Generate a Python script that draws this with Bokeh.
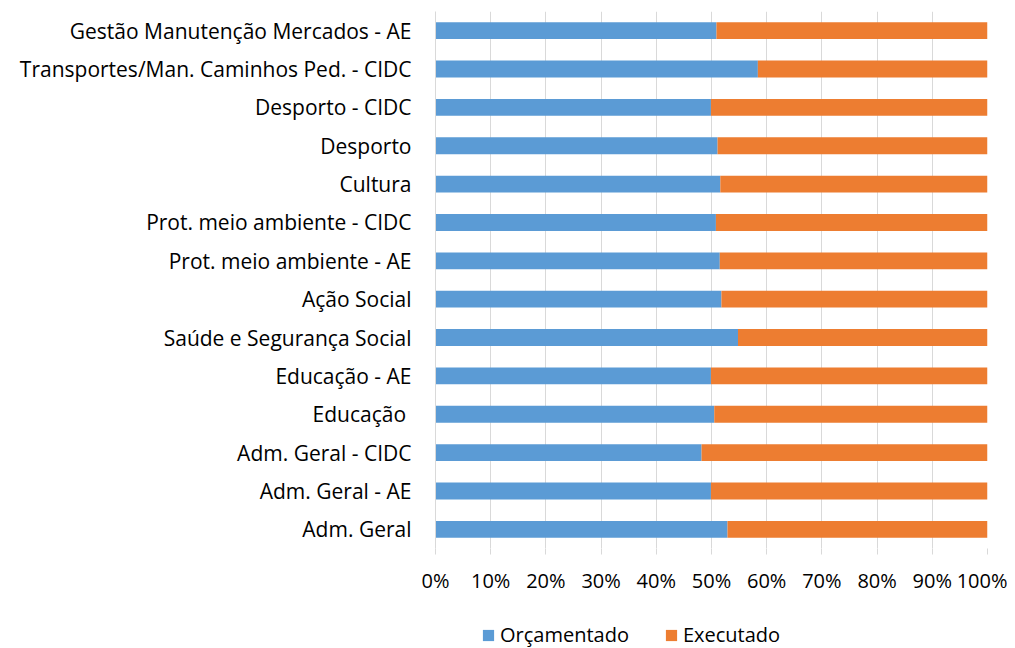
from bokeh.plotting import figure
from bokeh.layouts import column
from bokeh.models import ColumnDataSource, FactorRange, Range1d, Legend, LegendItem, PrintfTickFormatter, FixedTicker
from bokeh.embed import file_html
from bokeh.resources import INLINE

categories = [
    "Gestão Manutenção Mercados - AE",
    "Transportes/Man. Caminhos Ped. - CIDC",
    "Desporto - CIDC",
    "Desporto",
    "Cultura",
    "Prot. meio ambiente - CIDC",
    "Prot. meio ambiente - AE",
    "Ação Social",
    "Saúde e Segurança Social",
    "Educação - AE",
    "Educação ",
    "Adm. Geral - CIDC",
    "Adm. Geral - AE",
    "Adm. Geral",
]
orcamentado = [50.9, 58.4, 49.9, 51.1, 51.6, 50.8, 51.5, 51.8, 54.8, 49.9, 50.5, 48.2, 49.9, 52.9]
executado = [round(100 - v, 1) for v in orcamentado]
x_ticks = [0, 10, 20, 30, 40, 50, 60, 70, 80, 90, 100]
series_names = ["Orçamentado", "Executado"]

BLUE = "#5b9bd5"
ORANGE = "#ed7d31"
FONT = "Open Sans"

src = ColumnDataSource(dict(cat=categories, orc=orcamentado, exe=executado))

p = figure(
    width=1007, height=600,
    y_range=FactorRange(factors=list(reversed(categories)), range_padding=0),
    x_range=Range1d(0, 100),
    output_backend="svg", toolbar_location=None,
    min_border_left=435, min_border_right=20, min_border_top=11, min_border_bottom=52,
)
p.outline_line_color = None
p.background_fill_color = "white"
p.border_fill_color = "white"

r = p.hbar_stack(["orc", "exe"], y="cat", height=0.44, color=[BLUE, ORANGE], source=src, line_color=None)

p.ygrid.grid_line_color = None
p.xgrid.grid_line_color = "#d9d9d9"
p.xgrid.ticker = FixedTicker(ticks=x_ticks)

xa = p.xaxis[0]
xa.ticker = FixedTicker(ticks=x_ticks)
xa.formatter = PrintfTickFormatter(format="%d%%")
xa.axis_line_color = None
xa.major_tick_line_color = "#d9d9d9"
xa.major_tick_out = 6
xa.major_tick_in = 0
xa.minor_tick_line_color = None
xa.major_label_text_font = FONT
xa.major_label_text_font_size = "20px"
xa.major_label_text_color = "#000000"
xa.major_label_standoff = 12

ya = p.yaxis[0]
ya.axis_line_color = "#d9d9d9"
ya.major_tick_line_color = None
ya.minor_tick_line_color = None
ya.major_label_text_font = FONT
ya.major_label_text_font_size = "21px"
ya.major_label_text_color = "#000000"
ya.major_label_standoff = 18

# legend strip below the chart (its frame is aligned with the chart frame by the column layout)
p2 = figure(
    width=1007, height=48,
    x_range=Range1d(0, 1), y_range=Range1d(0, 1),
    output_backend="svg", toolbar_location=None,
    min_border_left=435, min_border_right=20, min_border_top=0, min_border_bottom=0,
)
p2.axis.visible = False
p2.grid.grid_line_color = None
p2.outline_line_color = None
# swatch renderers placed far outside the canvas; only their legend glyphs show
l1 = p2.hbar(y=[-50], left=[-50], right=[-49], height=0.1, color=BLUE, line_color=None)
l2 = p2.hbar(y=[-50], left=[-50], right=[-49], height=0.1, color=ORANGE, line_color=None)

legend = Legend(
    items=[LegendItem(label=series_names[0], renderers=[l1]),
           LegendItem(label=series_names[1], renderers=[l2])],
    orientation="horizontal",
    location=(46, 0),
    glyph_width=14, glyph_height=14,
    label_text_font=FONT, label_text_font_size="20px", label_text_color="#000000",
    label_standoff=5, spacing=35,
    border_line_color=None, background_fill_alpha=0,
    padding=0, margin=0,
)
p2.add_layout(legend, "center")

layout = column(p, p2, spacing=0)
open("out.html", "w").write(file_html(layout, INLINE))
